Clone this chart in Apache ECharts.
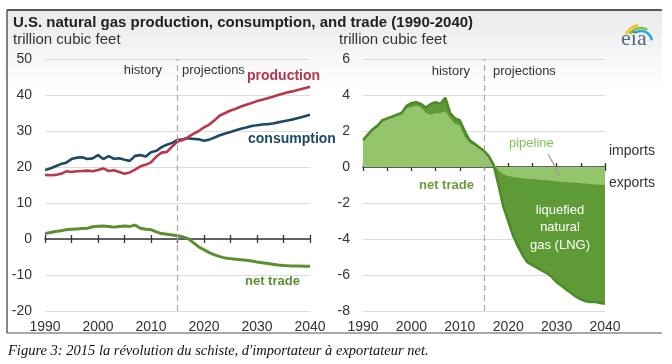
<!DOCTYPE html>
<html>
<head>
<meta charset="utf-8">
<script src="https://cdn.jsdelivr.net/npm/echarts@6/dist/echarts.min.js"></script>
<style>html,body{margin:0;padding:0;background:#fff}#c{width:672px;height:364px}</style>
</head>
<body>
<div id="c"></div>
<script>
const years = Array.from({length: 51}, (_, i) => 1990 + i);
const production = [17.8,17.7,17.8,18.1,18.8,18.6,18.8,18.9,19.0,18.8,19.2,19.6,18.9,19.1,18.6,18.1,18.5,19.3,20.2,20.6,21.3,22.9,24.0,24.2,25.7,27.1,27.5,28.3,29.2,30.0,31.0,31.8,33.0,34.3,35.0,35.7,36.2,36.8,37.3,37.8,38.3,38.7,39.1,39.5,40.0,40.4,40.8,41.1,41.5,41.9,42.3];
const consumption = [19.2,19.6,20.2,20.8,21.2,22.2,22.6,22.7,22.2,22.4,23.3,22.2,23.0,22.3,22.4,22.0,21.7,23.1,23.3,22.9,24.1,24.5,25.5,26.2,26.7,27.5,27.7,28.0,27.8,27.7,27.3,27.6,28.2,28.8,29.3,29.7,30.2,30.6,31.0,31.4,31.6,31.8,31.9,32.1,32.4,32.7,33.0,33.3,33.7,34.1,34.5];
const netTrade = [1.5,1.8,2.1,2.3,2.6,2.7,2.8,2.9,3.0,3.4,3.55,3.6,3.5,3.3,3.5,3.6,3.5,3.85,3.0,2.7,2.6,2.0,1.5,1.3,1.1,0.9,0.6,0.1,-1.0,-2.2,-3.0,-3.8,-4.4,-4.9,-5.3,-5.45,-5.6,-5.75,-5.9,-6.1,-6.4,-6.6,-6.8,-7.0,-7.2,-7.35,-7.45,-7.5,-7.5,-7.55,-7.6];
const pipeline = [1.45,1.7,2.0,2.2,2.5,2.65,2.75,2.85,2.95,3.25,3.35,3.4,3.3,3.0,2.9,3.0,3.0,3.1,2.7,2.4,2.3,1.7,1.35,1.2,1.05,0.9,0.6,0.2,-0.2,-0.4,-0.5,-0.55,-0.6,-0.62,-0.65,-0.67,-0.7,-0.72,-0.74,-0.76,-0.8,-0.82,-0.84,-0.86,-0.88,-0.9,-0.92,-0.95,-0.97,-0.98,-1.0];
const leftTicks = {min: -20, max: 50, interval: 10};
const rightTicks = {min: -8, max: 6, interval: 2};
const historyEnd = 2015;

const pair = arr => arr.map((v, i) => [years[i], v]);
const FONT = 'Liberation Sans, Arial, sans-serif';

function xAxes(grid) {
  const base = {type: 'value', gridIndex: grid, min: 1990, max: 2040, splitLine: {show: false}};
  return [
    Object.assign({}, base, {position: 'bottom', interval: 10, axisLine: {show: false, onZero: false}, axisTick: {show: false},
      axisLabel: {fontFamily: FONT, fontSize: 14, color: '#333', margin: 9, formatter: v => String(v)}}),
    Object.assign({}, base, {position: 'bottom', interval: 5, axisLine: {show: true, onZero: true, onZeroAxisIndex: grid, lineStyle: {color: '#333', width: 1.5}},
      axisTick: {show: true, inside: false, length: 4, lineStyle: {color: '#333', width: 1.3}}, axisLabel: {show: false}}),
    Object.assign({}, base, {position: 'bottom', interval: 5, axisLine: {show: false, onZero: true, onZeroAxisIndex: grid},
      axisTick: {show: true, inside: true, length: 4, lineStyle: {color: '#333', width: 1.3}}, axisLabel: {show: false}})
  ];
}
function yAxis(grid, t) {
  return {type: 'value', gridIndex: grid, min: t.min, max: t.max, interval: t.interval,
    axisLine: {show: false}, axisTick: {show: false},
    axisLabel: {fontFamily: FONT, fontSize: 14, color: '#333', margin: 13},
    splitLine: {lineStyle: {color: '#dcdcdc', width: 1}}};
}
const divider = {silent: true, symbol: 'none', label: {show: false},
  lineStyle: {type: [6, 4], color: '#aaa', width: 1.2}, data: [{xAxis: historyEnd}]};

const chart = echarts.init(document.getElementById('c'), null, {renderer: 'canvas'});
const t = (x, y, text, style) => ({type: 'text', x, y, z: 50, style: Object.assign({text, font: '13px ' + FONT, fill: '#333', textVerticalAlign: 'middle'}, style)});

chart.setOption({
  animation: false,
  backgroundColor: '#fff',
  grid: [
    {left: 45, right: 362, top: 59, bottom: 53},
    {left: 363, right: 67, top: 59, bottom: 53}
  ],
  xAxis: xAxes(0).concat(xAxes(1)),
  yAxis: [yAxis(0, leftTicks), yAxis(1, rightTicks)],
  series: [
    {type: 'line', name: 'net trade', xAxisIndex: 0, yAxisIndex: 0, data: pair(netTrade), symbol: 'none',
      lineStyle: {color: '#5b902f', width: 3}, markLine: divider},
    {type: 'line', name: 'consumption', xAxisIndex: 0, yAxisIndex: 0, data: pair(consumption), symbol: 'none',
      lineStyle: {color: '#1d4a63', width: 2.6}},
    {type: 'line', name: 'production', xAxisIndex: 0, yAxisIndex: 0, data: pair(production), symbol: 'none',
      lineStyle: {color: '#b8384c', width: 2.6}},
    {type: 'line', name: 'LNG', xAxisIndex: 3, yAxisIndex: 1, data: pair(netTrade), symbol: 'none',
      lineStyle: {width: 0}, areaStyle: {color: '#5e9b36', opacity: 1, origin: 0}},
    {type: 'line', name: 'pipeline', xAxisIndex: 3, yAxisIndex: 1, data: pair(pipeline), symbol: 'none',
      lineStyle: {width: 0}, areaStyle: {color: '#93c66c', opacity: 1, origin: 0}},
    {type: 'line', name: 'total', xAxisIndex: 3, yAxisIndex: 1, data: pair(netTrade), symbol: 'none', z: 3,
      lineStyle: {color: '#4f8a2a', width: 2.6}, markLine: divider}
  ],
  graphic: [
    {type: 'rect', z: -1, shape: {x: 7, y: 10, width: 655, height: 323},
      style: {fill: new echarts.graphic.LinearGradient(0, 0, 0, 1, [{offset: 0, color: '#eaeaea'}, {offset: 0.25, color: '#ffffff'}, {offset: 1, color: '#ffffff'}])}},
    {type: 'line', z: 50, shape: {x1: 7, y1: 10, x2: 662, y2: 10}, style: {stroke: '#222', lineWidth: 1.5}},
    {type: 'line', z: 50, shape: {x1: 7, y1: 10, x2: 7, y2: 333}, style: {stroke: '#333', lineWidth: 1.2}},
    {type: 'line', z: 50, shape: {x1: 7, y1: 333, x2: 662, y2: 333}, style: {stroke: '#555', lineWidth: 1.2}},
    t(13, 23, 'U.S. natural gas production, consumption, and trade (1990-2040)', {font: 'bold 15px ' + FONT, fill: '#222'}),
    t(13, 40, 'trillion cubic feet', {font: '15px ' + FONT}),
    t(339, 40, 'trillion cubic feet', {font: '15px ' + FONT}),
    t(162, 70, 'history', {textAlign: 'right'}),
    t(182, 70, 'projections'),
    t(470, 71, 'history', {textAlign: 'right'}),
    t(493, 71, 'projections'),
    t(247, 76, 'production', {font: 'bold 14px ' + FONT, fill: '#b5354b'}),
    t(248, 139, 'consumption', {font: 'bold 14px ' + FONT, fill: '#1d4a63'}),
    t(245, 281, 'net trade', {font: 'bold 13px ' + FONT, fill: '#5b8f35'}),
    t(419, 185, 'net trade', {font: 'bold 13px ' + FONT, fill: '#6b9a40'}),
    t(509, 143, 'pipeline', {font: '13px ' + FONT, fill: '#86bd5c'}),
    {type: 'line', z: 50, shape: {x1: 548, y1: 154, x2: 560, y2: 176}, style: {stroke: '#999', lineWidth: 1.2}},
    t(609, 151, 'imports', {font: '14px ' + FONT}),
    t(609, 183, 'exports', {font: '14px ' + FONT}),
    t(560, 210, 'liquefied', {textAlign: 'center', fill: '#fff'}),
    t(560, 227, 'natural', {textAlign: 'center', fill: '#fff'}),
    t(560, 245, 'gas (LNG)', {textAlign: 'center', fill: '#fff'}),
    {type: 'arc', z: 50, shape: {cx: 641, cy: 42, r: 17, startAngle: Math.PI * 1.15, endAngle: Math.PI * 1.45}, style: {stroke: '#f1c40f', lineWidth: 2.5, fill: null}},
    {type: 'arc', z: 50, shape: {cx: 641, cy: 42, r: 14, startAngle: Math.PI * 1.2, endAngle: Math.PI * 1.65}, style: {stroke: '#7cc242', lineWidth: 2.5, fill: null}},
    {type: 'arc', z: 50, shape: {cx: 641, cy: 42, r: 11, startAngle: Math.PI * 1.3, endAngle: Math.PI * 1.95}, style: {stroke: '#2aa4dc', lineWidth: 2.5, fill: null}},
    t(621, 39, 'eia', {font: '22px Liberation Serif, serif', fill: '#53687c'}),
    t(8, 351, "Figure 3: 2015 la révolution du schiste, d'importateur à exportateur net.", {font: 'italic 14.5px Liberation Serif, serif', fill: '#111'})
  ]
});
</script>
</body>
</html>
